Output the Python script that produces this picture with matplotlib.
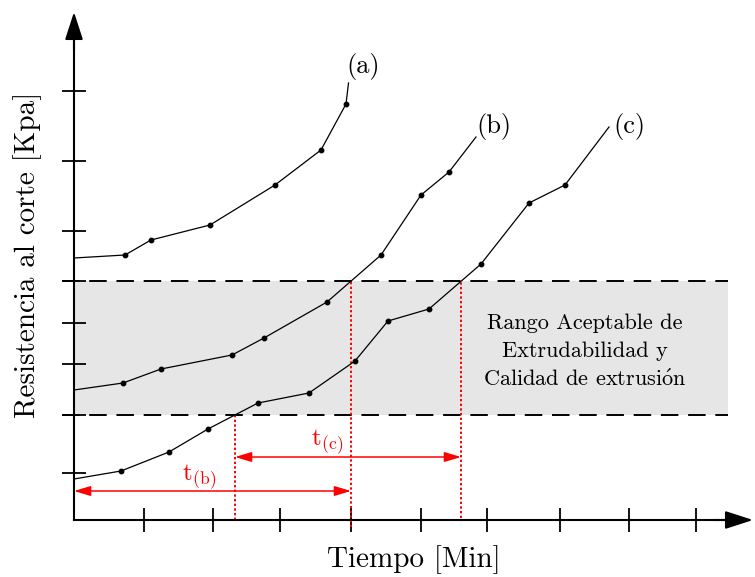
import numpy as np
import matplotlib.pyplot as plt

plt.rcParams['font.family'] = ['cmr10', 'DejaVu Serif']
plt.rcParams['mathtext.fontset'] = 'cm'
plt.rcParams['axes.formatter.use_mathtext'] = True

# curves (time, resistance) in arbitrary units, origin at the axes corner
a_x = [0, 51, 77, 136, 201, 247, 272]
a_y = [262, 265, 280, 295, 335, 370, 416]
b_x = [0, 49, 87, 158, 190, 253, 307, 347, 375]
b_y = [130, 137, 151, 165, 182, 218, 265, 325, 348]
c_x = [0, 47, 95, 134, 184, 235, 281, 314, 355, 407, 455, 491]
c_y = [41, 49, 68, 91, 117, 127, 159, 199, 211, 256, 317, 335]
# segments leading to the labels
a_tail = ([272, 274.5], [416, 437])
b_tail = ([375, 402], [348, 383])
c_tail = ([491, 535], [335, 393])

labels = ['(a)', '(b)', '(c)']
label_pos = [(289, 453), (420, 394), (555, 394)]

band_low, band_high = 105, 239
x_ticks = [70, 139, 206, 277, 347, 413, 486, 555, 622]
y_ticks = [47, 105, 156, 197, 239, 289, 359, 429]

t_b = (0, 277)      # start / end of t(b)
t_c = (161, 387)    # start / end of t(c)

fig = plt.figure(figsize=(7.55, 5.77), dpi=100)
ax = fig.add_axes([0, 0, 1, 1])
ax.set_xlim(-74, 681)
ax.set_ylim(-57, 520)

# acceptable band
ax.fill_between([0, 654], band_low, band_high, color='#e6e6e6', lw=0, zorder=0)
for yv in (band_low, band_high):
    ax.plot([-12, 654], [yv, yv], color='black', lw=1.4, dashes=(9, 5), zorder=1)

ax.text(511, 168, 'Rango Aceptable de\nExtrudabilidad y\nCalidad de extrusi$\\mathrm{\\acute{o}}$n',
        ha='center', va='center', fontsize=16, linespacing=1.5)

# curves
for xs, ys, tail in [(a_x, a_y, a_tail), (b_x, b_y, b_tail), (c_x, c_y, c_tail)]:
    ax.plot(xs, ys, color='black', lw=0.9, zorder=3)
    ax.plot(xs[1:], ys[1:], 'o', color='black', ms=3.2, zorder=4)
    ax.plot(tail[0], tail[1], color='black', lw=0.9, zorder=3)
for lab, (lx, ly) in zip(labels, label_pos):
    ax.text(lx, ly, lab, fontsize=19, ha='center', va='center')

# red guide lines
ax.plot([t_c[0], t_c[0]], [0, band_low], color='red', lw=1.4, ls=(0, (1.2, 1.2)), zorder=2)
ax.plot([t_b[1], t_b[1]], [-7, band_high], color='red', lw=1.4, ls=(0, (1.2, 1.2)), zorder=2)
ax.plot([t_c[1], t_c[1]], [2, band_high], color='red', lw=1.4, ls=(0, (1.2, 1.2)), zorder=2)

arr = dict(arrowstyle='<|-|>,head_length=1.0,head_width=0.3', color='red', lw=1.1,
           shrinkA=0, shrinkB=0)
ax.annotate('', xy=(t_b[1], 29), xytext=(t_b[0], 29), arrowprops=arr)
ax.annotate('', xy=(t_c[1], 63), xytext=(t_c[0], 63), arrowprops=arr)
ax.text(125, 43, r'$\mathrm{t}_{\mathrm{(b)}}$', color='red', fontsize=18, ha='center', va='center')
ax.text(253, 78, r'$\mathrm{t}_{\mathrm{(c)}}$', color='red', fontsize=18, ha='center', va='center')

# axes with arrow heads
for s in ['top', 'right']:
    ax.spines[s].set_visible(False)
ax.spines['left'].set_position(('data', 0))
ax.spines['bottom'].set_position(('data', 0))
ax.spines['left'].set_bounds(0, 490)
ax.spines['bottom'].set_bounds(0, 665)
ax.spines['left'].set_linewidth(1.5)
ax.spines['bottom'].set_linewidth(1.5)
ax.set_xticks(x_ticks)
ax.set_yticks(y_ticks)
ax.set_xticklabels([])
ax.set_yticklabels([])
ax.tick_params(direction='inout', length=17, width=1.3, color='black')
head = dict(arrowstyle='-|>,head_length=1.7,head_width=0.55', color='black', lw=1.5,
            shrinkA=0, shrinkB=0)
ax.annotate('', xy=(0, 508), xytext=(0, 470), arrowprops=head)
ax.annotate('', xy=(679, 0), xytext=(640, 0), arrowprops=head)

fig.text(414 / 755, 1 - 560 / 577, 'Tiempo [Min]', fontsize=21, ha='center', va='center')
fig.text(28 / 755, 1 - 255 / 577, 'Resistencia al corte [Kpa]', fontsize=21,
         ha='center', va='center', rotation=90)

fig.savefig('out.png', dpi=100)
